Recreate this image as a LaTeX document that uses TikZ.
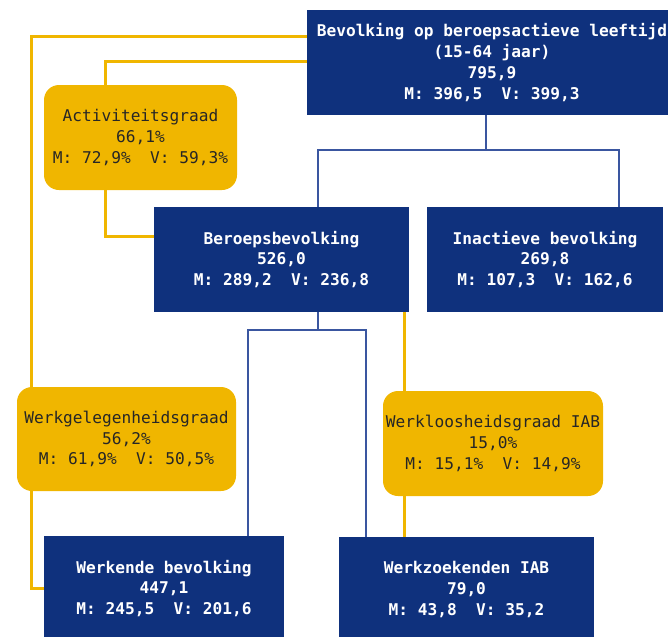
\documentclass[tikz,border=0pt]{standalone}
\usepackage{fontspec}
\setmonofont{DejaVu Sans Mono}
\usetikzlibrary{calc, backgrounds}
\definecolor{navy}{HTML}{0F317D}
\definecolor{gold}{HTML}{F0B600}
\definecolor{linkblue}{HTML}{3A56A0}
\tikzset{
  popbox/.style={fill=navy, text=white, font=\ttfamily\bfseries\fontsize{9.2}{11.9}\selectfont,
    align=center, inner sep=0pt, minimum height=105*0.02cm},
  ratebox/.style={fill=gold, text=black!85, rounded corners=0.3cm,
    font=\ttfamily\fontsize{9.2}{11.9}\selectfont, align=center, inner sep=0pt,
    minimum height=105*0.02cm},
  bluelink/.style={draw=linkblue, line width=0.9pt},
  goldlink/.style={draw=gold, line width=1.5pt}
}
\begin{document}
\begin{tikzpicture}[x=0.02cm, y=-0.02cm]
        \clip (0,0) rectangle (668,636);

        % populations
        \node[popbox, minimum width=370*0.02cm] (top) at (492,62.5)
            {Bevolking op beroepsactieve leeftijd\\(15-64 jaar)\\795,9\\M: 396,5\ \ V: 399,3};
        \node[popbox, minimum width=255*0.02cm] (berp) at (281.5,259.5)
            {Beroepsbevolking\\526,0\\M: 289,2\ \ V: 236,8};
        \node[popbox, minimum width=236*0.02cm] (inact) at (545,259.5)
            {Inactieve bevolking\\269,8\\M: 107,3\ \ V: 162,6};
        \node[popbox, minimum width=240*0.02cm] (werkende) at (164,588.5)
            {Werkende bevolking\\447,1\\M: 245,5\ \ V: 201,6};
        \node[popbox, minimum width=255*0.02cm] (werkz) at (466.5,589.5)
            {Werkzoekenden IAB\\79,0\\M: 43,8\ \ V: 35,2};

        % rates
        \node[ratebox, minimum width=193*0.02cm] (act) at (140.5,137.5)
            {Activiteitsgraad\\66,1\%\\M: 72,9\%\ \ V: 59,3\%};
        \node[ratebox, minimum width=219*0.02cm, minimum height=104*0.02cm] (werkg) at (126.5,439)
            {Werkgelegenheidsgraad\\56,2\%\\M: 61,9\%\ \ V: 50,5\%};
        \node[ratebox, minimum width=220*0.02cm] (werkl) at (493,443.5)
            {Werkloosheidsgraad IAB\\15,0\%\\M: 15,1\%\ \ V: 14,9\%};

        \begin{scope}[on background layer]
        % tree
        \coordinate (s1) at (486,150);
        \coordinate (s1l) at (318,150);
        \coordinate (s1r) at (619,150);
        \draw[bluelink] (s1 |- top.south) -- (s1);
        \draw[bluelink] (s1l |- berp.north) -- (s1l) -- (s1r) -- (s1r |- inact.north);

        \coordinate (s2) at (318,330);
        \coordinate (s2l) at (248,330);
        \coordinate (s2r) at (366,330);
        \draw[bluelink] (s2 |- berp.south) -- (s2);
        \draw[bluelink] (s2l |- werkende.north) -- (s2l) -- (s2r) -- (s2r |- werkz.north);

        % rate lines
        \draw[goldlink] ($(top.north west)+(0,27)$) -| ($(werkende.west)+(-12,0)$) -- (werkende.west);
        \draw[goldlink] ($(top.north west)+(0,52)$) -| ($(berp.north west)+(-48,30)$) -- ($(berp.north west)+(0,30)$);
        \draw[goldlink] ($(berp.south east)+(-5,0)$) coordinate (g3) -- (g3 |- werkz.north);
        \end{scope}
    \end{tikzpicture}
\end{document}
